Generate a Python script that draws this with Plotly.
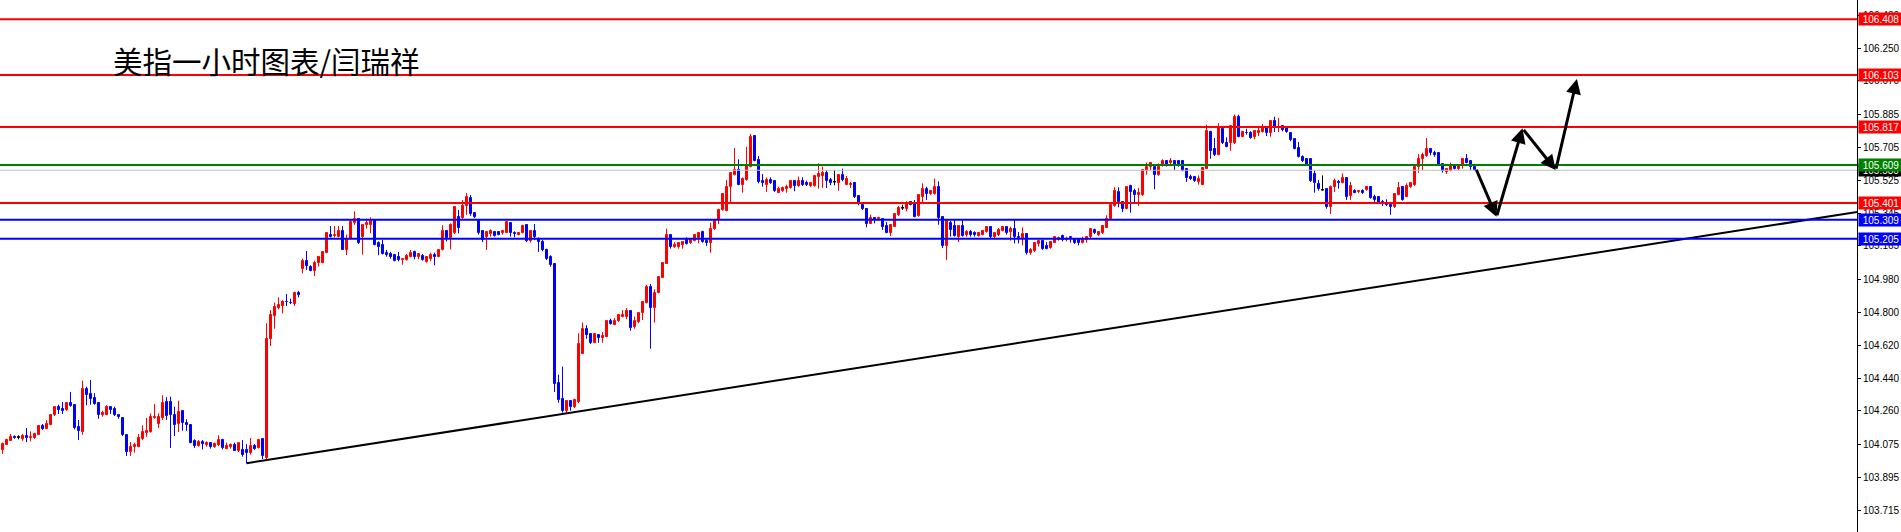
import plotly.graph_objects as go

# ---------------- data ----------------
OPEN = [
104.046,104.074,104.096,104.118,104.115,104.107,104.122,104.111,104.111,104.129,
104.177,104.159,104.184,104.236,104.283,104.272,104.265,104.302,104.294,104.170,
104.144,104.382,104.353,104.331,104.305,104.236,104.239,104.280,104.269,104.236,
104.221,104.129,104.034,104.064,104.064,104.104,104.140,104.144,104.221,104.188,
104.221,104.309,104.309,104.236,104.188,104.258,104.195,104.184,104.093,104.067,
104.089,104.071,104.082,104.060,104.071,104.100,104.053,104.060,104.071,104.038,
104.046,104.045,104.027,104.067,104.057,104.107,104.000,104.653,104.781,104.825,
104.837,104.858,104.853,104.846,104.908,105.038,105.082,105.051,105.029,105.070,
105.070,105.125,105.227,105.219,105.216,105.245,105.143,105.201,105.289,105.314,
105.212,105.278,105.278,105.307,105.179,105.172,105.128,105.121,105.114,105.106,
105.088,105.088,105.106,105.132,105.103,105.110,105.077,105.095,105.117,105.106,
105.143,105.245,105.208,105.234,105.322,105.318,105.384,105.428,105.344,105.303,
105.248,105.212,105.230,105.241,105.241,105.234,105.238,105.289,105.238,105.227,
105.238,105.278,105.190,105.248,105.205,105.186,105.143,105.103,105.066,104.411,
104.324,104.261,104.316,104.280,104.309,104.572,104.711,104.682,104.634,104.678,
104.660,104.664,104.755,104.730,104.751,104.773,104.777,104.810,104.719,104.748,
104.795,104.854,104.941,104.824,104.908,104.989,105.066,105.223,105.157,105.161,
105.172,105.198,105.179,105.194,105.208,105.241,105.194,105.183,105.260,105.307,
105.362,105.358,105.487,105.556,105.581,105.501,105.527,105.600,105.768,105.636,
105.523,105.501,105.527,105.519,105.457,105.468,105.476,105.483,105.519,105.494,
105.523,105.508,105.494,105.494,105.541,105.549,105.567,105.527,105.516,105.512,
105.556,105.501,105.498,105.508,105.439,105.391,105.369,105.285,105.318,105.311,
105.314,105.274,105.234,105.270,105.333,105.373,105.366,105.406,105.402,105.329,
105.435,105.476,105.450,105.450,105.487,105.325,105.165,105.289,105.274,105.216,
105.274,105.223,105.241,105.238,105.219,105.227,105.241,105.267,105.212,105.223,
105.248,105.267,105.241,105.256,105.216,105.208,105.230,105.128,105.139,105.176,
105.190,105.165,105.154,105.183,105.198,105.219,105.197,105.214,105.201,105.198,
105.183,105.198,105.212,105.252,105.227,105.238,105.263,105.311,105.384,105.461,
105.406,105.369,105.494,105.468,105.443,105.443,105.578,105.596,105.600,105.552,
105.603,105.632,105.618,105.632,105.632,105.632,105.585,105.545,105.541,105.516,
105.501,105.589,105.790,105.698,105.665,105.808,105.731,105.728,105.728,105.874,
105.764,105.787,105.786,105.764,105.783,105.790,105.812,105.783,105.852,105.811,
105.823,105.819,105.786,105.750,105.702,105.654,105.643,105.640,105.559,105.505,
105.472,105.476,105.380,105.487,105.516,105.512,105.538,105.439,105.465,105.461,
105.468,105.472,105.487,105.435,105.435,105.406,105.394,105.391,105.377,105.446,
105.487,105.435,105.490,105.498,105.600,105.640,105.658,105.695,105.673,105.676,
105.614,105.570,105.578,105.607,105.589,105.603,105.640,105.629,105.596]

HIGH = [
104.086,104.107,104.133,104.126,104.126,104.133,104.166,104.148,104.140,104.177,
104.188,104.210,104.239,104.287,104.294,104.309,104.305,104.364,104.298,104.210,
104.426,104.393,104.430,104.357,104.309,104.261,104.291,104.283,104.283,104.243,
104.225,104.133,104.089,104.086,104.133,104.181,104.221,104.247,104.298,104.247,
104.346,104.335,104.338,104.283,104.316,104.258,104.214,104.188,104.104,104.100,
104.100,104.093,104.086,104.086,104.126,104.107,104.086,104.082,104.086,104.089,
104.100,104.078,104.111,104.078,104.104,104.111,104.741,104.813,104.854,104.883,
104.868,104.901,104.876,104.914,104.919,105.095,105.137,105.059,105.084,105.106,
105.137,105.234,105.274,105.274,105.274,105.274,105.227,105.307,105.355,105.318,
105.281,105.314,105.322,105.311,105.190,105.198,105.143,105.132,105.121,105.132,
105.099,105.121,105.143,105.139,105.125,105.121,105.106,105.128,105.128,105.143,
105.278,105.248,105.289,105.380,105.362,105.417,105.455,105.444,105.351,105.311,
105.252,105.245,105.256,105.241,105.245,105.252,105.296,105.292,105.245,105.241,
105.281,105.281,105.252,105.285,105.212,105.197,105.150,105.114,105.070,104.459,
104.503,104.320,104.320,104.327,104.686,104.744,104.730,104.686,104.686,104.682,
104.693,104.759,104.766,104.770,104.785,104.813,104.824,104.813,104.777,104.795,
104.861,104.952,104.956,104.927,105.000,105.073,105.260,105.227,105.186,105.186,
105.190,105.212,105.205,105.223,105.241,105.248,105.205,105.292,105.311,105.369,
105.454,105.527,105.570,105.702,105.640,105.541,105.709,105.779,105.768,105.658,
105.559,105.541,105.541,105.523,105.490,105.490,105.501,105.527,105.523,105.545,
105.541,105.523,105.516,105.552,105.618,105.600,105.581,105.538,105.581,105.559,
105.589,105.549,105.516,105.516,105.443,105.402,105.373,105.336,105.318,105.325,
105.318,105.296,105.281,105.340,105.384,105.391,105.410,105.410,105.417,105.443,
105.508,105.490,105.472,105.534,105.519,105.329,105.307,105.303,105.307,105.278,
105.307,105.252,105.252,105.245,105.241,105.252,105.270,105.270,105.241,105.263,
105.274,105.274,105.270,105.311,105.241,105.267,105.234,105.154,105.183,105.198,
105.198,105.186,105.190,105.219,105.216,105.227,105.216,105.219,105.205,105.205,
105.216,105.219,105.263,105.260,105.245,105.278,105.333,105.391,105.487,105.487,
105.410,105.490,105.501,105.479,105.483,105.585,105.622,105.625,105.607,105.618,
105.640,105.636,105.647,105.636,105.636,105.636,105.589,105.556,105.545,105.552,
105.592,105.830,105.797,105.757,105.838,105.812,105.761,105.827,105.885,105.885,
105.797,105.808,105.794,105.801,105.819,105.834,105.816,105.852,105.874,105.867,
105.827,105.823,105.790,105.753,105.735,105.662,105.643,105.643,105.581,105.527,
105.552,105.479,105.497,105.534,105.527,105.563,105.541,105.516,105.476,105.472,
105.476,105.494,105.490,105.446,105.439,105.417,105.421,105.395,105.454,105.516,
105.490,105.508,105.516,105.607,105.669,105.676,105.757,105.698,105.687,105.680,
105.618,105.589,105.622,105.611,105.614,105.643,105.669,105.632,105.600]

LOW = [
104.024,104.074,104.096,104.107,104.104,104.096,104.089,104.093,104.107,104.129,
104.155,104.159,104.181,104.232,104.243,104.243,104.261,104.283,104.159,104.100,
104.129,104.291,104.294,104.294,104.217,104.228,104.236,104.243,104.232,104.217,
104.122,104.013,104.013,104.031,104.060,104.100,104.118,104.140,104.217,104.166,
104.210,104.210,104.057,104.122,104.144,104.151,104.151,104.082,104.057,104.064,
104.049,104.064,104.053,104.057,104.067,104.049,104.049,104.053,104.042,104.034,
104.009,103.973,104.020,104.046,104.053,103.996,103.991,104.616,104.711,104.817,
104.795,104.835,104.846,104.835,104.883,105.015,105.033,105.026,105.000,105.051,
105.070,105.125,105.212,105.212,105.212,105.143,105.114,105.201,105.281,105.176,
105.117,105.260,105.234,105.168,105.114,105.118,105.106,105.095,105.081,105.081,
105.062,105.084,105.103,105.092,105.092,105.084,105.073,105.081,105.059,105.103,
105.140,105.190,105.146,105.230,105.234,105.311,105.336,105.330,105.318,105.227,
105.186,105.143,105.216,105.216,105.223,105.227,105.238,105.216,105.212,105.223,
105.234,105.186,105.183,105.197,105.132,105.136,105.088,105.051,104.364,104.305,
104.250,104.243,104.261,104.276,104.302,104.572,104.656,104.627,104.631,104.634,
104.634,104.664,104.733,104.730,104.748,104.773,104.763,104.700,104.711,104.741,
104.759,104.850,104.601,104.744,104.905,104.989,105.066,105.150,105.154,105.150,
105.150,105.172,105.176,105.190,105.179,105.183,105.165,105.128,105.252,105.285,
105.358,105.355,105.406,105.552,105.498,105.457,105.523,105.596,105.629,105.508,
105.490,105.461,105.505,105.461,105.454,105.461,105.457,105.479,105.465,105.490,
105.494,105.494,105.487,105.490,105.479,105.483,105.483,105.498,105.498,105.468,
105.519,105.498,105.483,105.428,105.388,105.362,105.267,105.285,105.289,105.303,
105.252,105.234,105.219,105.270,105.329,105.362,105.355,105.388,105.322,105.325,
105.402,105.417,105.443,105.446,105.281,105.154,105.088,105.216,105.216,105.186,
105.216,105.216,105.216,105.216,105.216,105.223,105.238,105.208,105.208,105.219,
105.245,105.227,105.194,105.179,105.179,105.168,105.117,105.117,105.132,105.161,
105.143,105.146,105.150,105.183,105.194,105.190,105.190,105.183,105.176,105.168,
105.179,105.183,105.208,105.230,105.219,105.230,105.263,105.307,105.380,105.377,
105.351,105.366,105.347,105.399,105.384,105.439,105.556,105.581,105.476,105.549,
105.600,105.600,105.614,105.581,105.600,105.574,105.516,105.527,105.516,105.501,
105.498,105.589,105.643,105.658,105.662,105.724,105.706,105.687,105.724,105.761,
105.761,105.775,105.753,105.750,105.768,105.786,105.768,105.764,105.790,105.790,
105.794,105.786,105.739,105.695,105.651,105.625,105.603,105.516,105.457,105.468,
105.468,105.369,105.340,105.461,105.479,105.508,105.417,105.417,105.454,105.454,
105.450,105.468,105.424,105.406,105.395,105.384,105.384,105.336,105.373,105.443,
105.413,105.432,105.483,105.494,105.567,105.581,105.654,105.662,105.654,105.607,
105.567,105.559,105.574,105.585,105.581,105.589,105.618,105.581,105.578]

CLOSE = [
104.078,104.100,104.118,104.111,104.115,104.122,104.111,104.118,104.133,104.177,
104.159,104.188,104.236,104.283,104.265,104.261,104.305,104.287,104.166,104.151,
104.379,104.349,104.327,104.298,104.236,104.250,104.283,104.265,104.236,104.225,
104.126,104.034,104.060,104.071,104.111,104.144,104.151,104.225,104.228,104.225,
104.302,104.232,104.236,104.181,104.254,104.192,104.181,104.086,104.067,104.089,
104.078,104.086,104.060,104.078,104.100,104.057,104.067,104.074,104.042,104.082,
104.020,104.027,104.067,104.053,104.100,104.013,104.656,104.786,104.832,104.841,
104.859,104.855,104.850,104.908,104.894,105.084,105.055,105.029,105.073,105.106,
105.133,105.234,105.216,105.227,105.245,105.143,105.201,105.296,105.314,105.179,
105.278,105.289,105.307,105.172,105.161,105.121,105.117,105.103,105.084,105.088,
105.095,105.110,105.128,105.106,105.121,105.088,105.103,105.117,105.106,105.143,
105.245,105.208,105.281,105.377,105.263,105.384,105.433,105.340,105.322,105.234,
105.197,105.241,105.245,105.219,105.227,105.245,105.296,105.238,105.230,105.238,
105.274,105.190,105.248,105.212,105.186,105.143,105.092,105.059,104.408,104.320,
104.261,104.316,104.283,104.320,104.627,104.711,104.675,104.631,104.682,104.660,
104.671,104.751,104.737,104.751,104.785,104.788,104.810,104.715,104.755,104.795,
104.857,104.941,104.824,104.908,104.996,105.070,105.223,105.157,105.172,105.179,
105.186,105.176,105.205,105.223,105.234,105.186,105.183,105.260,105.303,105.362,
105.450,105.490,105.563,105.581,105.501,105.534,105.603,105.764,105.632,105.516,
105.508,105.527,105.512,105.465,105.479,105.483,105.490,105.523,105.494,105.519,
105.501,105.497,105.508,105.549,105.559,105.567,105.523,105.512,105.516,105.556,
105.527,105.530,105.505,105.435,105.395,105.369,105.285,105.318,105.307,105.318,
105.270,105.238,105.278,105.340,105.373,105.373,105.399,105.391,105.325,105.443,
105.476,105.450,105.465,105.487,105.318,105.165,105.300,105.252,105.219,105.274,
105.219,105.241,105.227,105.223,105.238,105.248,105.267,105.212,105.238,105.252,
105.267,105.238,105.256,105.212,105.208,105.230,105.128,105.143,105.179,105.190,
105.150,105.150,105.186,105.212,105.208,105.198,105.201,105.208,105.183,105.179,
105.205,105.216,105.260,105.234,105.241,105.274,105.311,105.388,105.468,105.406,
105.369,105.487,105.461,105.443,105.454,105.581,105.600,105.622,105.552,105.600,
105.632,105.610,105.632,105.607,105.607,105.578,105.538,105.530,105.519,105.534,
105.592,105.794,105.687,105.662,105.812,105.728,105.709,105.823,105.874,105.764,
105.790,105.785,105.757,105.794,105.797,105.812,105.786,105.852,105.812,105.814,
105.801,105.790,105.746,105.698,105.654,105.632,105.607,105.519,105.508,105.476,
105.472,105.380,105.490,105.519,105.510,105.538,105.435,105.494,105.457,105.468,
105.454,105.487,105.428,105.417,105.399,105.395,105.391,105.380,105.450,105.483,
105.417,105.494,105.508,105.600,105.643,105.665,105.695,105.673,105.665,105.611,
105.574,105.585,105.611,105.589,105.607,105.640,105.621,105.600,105.580]

LEVELS = [106.408, 106.103, 105.817, 105.609, 105.401, 105.309, 105.205]
LEVEL_COLORS = ["#FF0000", "#FF0000", "#FF0000", "#008000", "#FF0000", "#0000FF", "#0000FF"]

TREND_X = [61, 464]
TREND_P = [103.973, 105.352]

ARROW_X = [368.3, 373.5, 380.0, 388.3, 393.6]
ARROW_P = [105.591, 105.325, 105.810, 105.581, 106.081]

TICKS = [106.430, 106.250, 106.070, 105.885, 105.705, 105.525, 105.345, 105.165,
         104.980, 104.800, 104.620, 104.440, 104.260, 104.075, 103.895, 103.715]

TITLE = "美指一小时图表/闫瑞祥"

# ---------------- figure ----------------
RED, BLUE, BLACK = "#FF0000", "#0000FF", "#000000"
W, H = 1901, 532
PLOT_W = 1857
n = len(OPEN)
xs = list(range(n))
colors = [RED if c > o else (BLUE if c < o else BLACK) for o, c in zip(OPEN, CLOSE)]

fig = go.Figure()

# candle bodies
fig.add_trace(go.Bar(
    x=xs,
    base=[min(o, c) for o, c in zip(OPEN, CLOSE)],
    y=[abs(c - o) for o, c in zip(OPEN, CLOSE)],
    width=0.5,
    marker=dict(color=colors, line=dict(color=colors, width=1)),
    hoverinfo="skip", showlegend=False,
))

# wicks
for col in (RED, BLUE, BLACK):
    wx, wy = [], []
    for i in range(n):
        if colors[i] == col:
            wx += [i, i, None]
            wy += [LOW[i], HIGH[i], None]
    fig.add_trace(go.Scatter(x=wx, y=wy, mode="lines",
                             line=dict(color=col, width=1),
                             hoverinfo="skip", showlegend=False))

# doji crossbars
dx, dy = [], []
for i in range(n):
    if colors[i] == BLACK:
        dx += [i - 0.375, i + 0.375, None]
        dy += [OPEN[i], OPEN[i], None]
fig.add_trace(go.Scatter(x=dx, y=dy, mode="lines", line=dict(color=BLACK, width=1),
                         hoverinfo="skip", showlegend=False))

# trend line
fig.add_trace(go.Scatter(x=TREND_X, y=TREND_P, mode="lines",
                         line=dict(color=BLACK, width=2),
                         hoverinfo="skip", showlegend=False))

shapes = []
# bid line
shapes.append(dict(type="line", xref="paper", x0=0, x1=1, yref="y",
                   y0=CLOSE[-1], y1=CLOSE[-1], line=dict(color="#C0C0C0", width=1)))
for lv, col in zip(LEVELS, LEVEL_COLORS):
    shapes.append(dict(type="line", xref="paper", x0=0, x1=1, yref="y",
                       y0=lv, y1=lv, line=dict(color=col, width=2)))

annotations = []
# forecast arrows
for i in range(len(ARROW_X) - 1):
    annotations.append(dict(
        x=ARROW_X[i + 1], y=ARROW_P[i + 1], ax=ARROW_X[i], ay=ARROW_P[i],
        xref="x", yref="y", axref="x", ayref="y", text="", showarrow=True,
        arrowhead=2, arrowsize=1, arrowwidth=3, arrowcolor=BLACK, standoff=0,
    ))

# price label boxes
def price_box(val, bg):
    return dict(x=1, xref="paper", y=val, yref="y", xanchor="left", yanchor="middle",
                xshift=1, text=f"{val:.3f}", showarrow=False, bgcolor=bg,
                font=dict(family="Liberation Sans", size=10, color="#FFFFFF"),
                width=44, height=12, borderpad=0)

annotations.append(price_box(CLOSE[-1], BLACK))
for lv, col in zip(LEVELS, LEVEL_COLORS):
    annotations.append(price_box(lv, col))

# title
annotations.append(dict(x=111 / PLOT_W, xref="paper", y=1 - 60 / H, yref="paper",
                        xanchor="left", yanchor="middle", text=TITLE, showarrow=False,
                        font=dict(family="Noto Sans CJK SC", size=29.5, color=BLACK)))

top = 106.514
bottom = top - H / 182.3

fig.update_layout(
    width=W, height=H,
    margin=dict(l=0, r=W - PLOT_W, t=0, b=0),
    paper_bgcolor="#FFFFFF", plot_bgcolor="#FFFFFF",
    showlegend=False, bargap=0,
    shapes=shapes, annotations=annotations,
    xaxis=dict(range=[-0.625, (PLOT_W - 2.5) / 4], visible=False, fixedrange=True),
    yaxis=dict(range=[bottom, top], side="right", tickvals=TICKS,
               ticktext=[f"{t:.3f}" for t in TICKS],
               ticks="outside", ticklen=3, tickcolor=BLACK,
               showline=True, linecolor=BLACK, linewidth=1,
               showgrid=False, zeroline=False, automargin=False,
               tickfont=dict(family="Liberation Sans", size=10, color=BLACK)),
)

fig.write_html("out.html",
               config={"displayModeBar": False},
               post_script="document.body.style.margin='0';document.body.style.overflow='hidden';")
